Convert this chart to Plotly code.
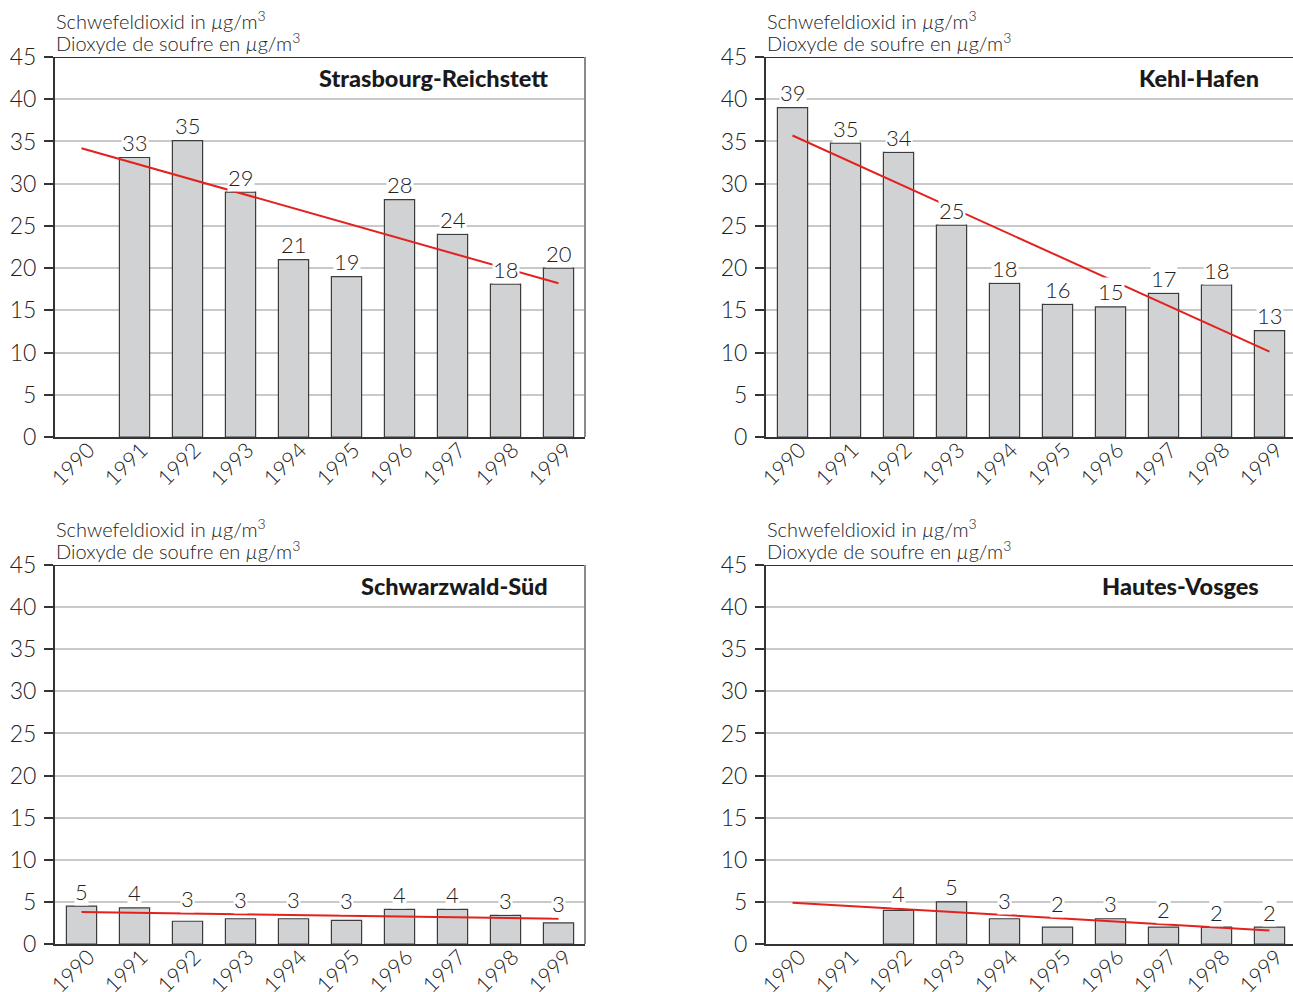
import plotly.graph_objects as go

# ---------------- data ----------------
years = ["1990", "1991", "1992", "1993", "1994", "1995", "1996", "1997", "1998", "1999"]

station_names = ["Strasbourg-Reichstett", "Kehl-Hafen", "Schwarzwald-Süd", "Hautes-Vosges"]

sr_values = [None, 33.1, 35.1, 29.0, 21.0, 19.0, 28.1, 24.0, 18.1, 20.0]
sr_labels = ["", "33", "35", "29", "21", "19", "28", "24", "18", "20"]
sr_trend = [34.2, 18.2]   # trend line at 1990 and 1999

kh_values = [39.0, 34.8, 33.7, 25.1, 18.2, 15.7, 15.4, 17.0, 18.0, 12.6]
kh_labels = ["39", "35", "34", "25", "18", "16", "15", "17", "18", "13"]
kh_trend = [35.7, 10.1]

ss_values = [4.5, 4.3, 2.7, 3.0, 3.0, 2.8, 4.1, 4.1, 3.4, 2.5]
ss_labels = ["5", "4", "3", "3", "3", "3", "4", "4", "3", "3"]
ss_trend = [3.8, 3.0]

hv_values = [None, None, 4.0, 5.0, 3.0, 2.0, 3.0, 2.0, 2.0, 2.0]
hv_labels = ["", "", "4", "5", "3", "2", "3", "2", "2", "2"]
hv_trend = [4.9, 1.6]

y_ticks = [0, 5, 10, 15, 20, 25, 30, 35, 40, 45]
unit_line1 = "Schwefeldioxid in <i>µ</i>g/m<sup>3</sup>"
unit_line2 = "Dioxyde de soufre en <i>µ</i>g/m<sup>3</sup>"

# ---------------- style / layout ----------------
W, H = 1293, 992
FONT = "Lato"
TXT = "#222222"
BAR_FILL = "#d1d2d4"
BAR_LINE = "#3c3c3c"
GRID = "#c9c9c9"
AXIS = "#333333"
RED = "#e3211f"
SLOT = 53.0  # px per category

panels = [
    dict(name=station_names[0], values=sr_values, labels=sr_labels, trend=sr_trend,
         x0=55, x1=585, y0=57, y1=437, right_border=True, clear_trend=False),
    dict(name=station_names[1], values=kh_values, labels=kh_labels, trend=kh_trend,
         x0=766, x1=1296, y0=57, y1=437, right_border=False, clear_trend=False),
    dict(name=station_names[2], values=ss_values, labels=ss_labels, trend=ss_trend,
         x0=55, x1=585, y0=565, y1=944, right_border=True, clear_trend=True),
    dict(name=station_names[3], values=hv_values, labels=hv_labels, trend=hv_trend,
         x0=766, x1=1296, y0=565, y1=944, right_border=False, clear_trend=True),
]

fig = go.Figure()
annotations = []
shapes = []
layout_axes = {}

for i, p in enumerate(panels, start=1):
    xa = "x" if i == 1 else f"x{i}"
    ya = "y" if i == 1 else f"y{i}"
    xkey = "xaxis" if i == 1 else f"xaxis{i}"
    ykey = "yaxis" if i == 1 else f"yaxis{i}"

    fig.add_trace(go.Bar(
        x=years, y=p["values"], xaxis=xa, yaxis=ya, width=0.57,
        marker=dict(color=BAR_FILL, line=dict(color=BAR_LINE, width=1.2)),
        showlegend=False, hoverinfo="skip",
    ))
    fig.add_trace(go.Scatter(
        x=[years[0], years[-1]], y=p["trend"], xaxis=xa, yaxis=ya,
        mode="lines", line=dict(color=RED, width=2),
        showlegend=False, hoverinfo="skip",
    ))

    x1_vis = min(p["x1"], W)
    xmax = -0.5 + (x1_vis - p["x0"]) / SLOT
    layout_axes[xkey] = dict(
        domain=[p["x0"] / W, x1_vis / W], anchor=ya, type="category",
        range=[-0.5, xmax], showline=True, linecolor=AXIS, linewidth=2,
        ticks="", showticklabels=False, showgrid=False, zeroline=False,
        fixedrange=True,
    )
    layout_axes[ykey] = dict(
        domain=[1 - p["y1"] / H, 1 - p["y0"] / H], anchor=xa,
        range=[0, 45], tickvals=y_ticks, showgrid=True, gridcolor=GRID, gridwidth=2,
        ticks="outside", ticklen=9, tickwidth=1.5, tickcolor=AXIS,
        ticklabelstandoff=3,
        showline=True, linecolor=AXIS, linewidth=2, zeroline=False,
        tickfont=dict(family=FONT, size=23, color=TXT, weight=300),
        fixedrange=True,
    )

    # year labels, rotated 45 degrees below each category
    for idx, yr in enumerate(years):
        annotations.append(dict(
            x=idx, y=0, xref=xa, yref=ya, text=yr, showarrow=False, textangle=-45,
            xanchor="center", yanchor="middle", xshift=-9, yshift=-27,
            font=dict(family=FONT, size=21.5, color=TXT, weight=300),
        ))

    # top border (dark) and right border (grey)
    shapes.append(dict(type="line", xref=f"{xa} domain", yref=ya, x0=0, x1=1, y0=45, y1=45,
                       line=dict(color=AXIS, width=2)))
    if p["right_border"]:
        shapes.append(dict(type="line", xref=f"{xa} domain", yref=f"{ya} domain",
                           x0=1, x1=1, y0=0, y1=1, line=dict(color="#8a8a8a", width=2)))

    # value labels (category axes take the category index for annotations)
    t0, t1 = p["trend"]
    for idx, (v, lab) in enumerate(zip(p["values"], p["labels"])):
        if v is None or lab == "":
            continue
        y_pos = v
        if p["clear_trend"]:
            # place the label above the trend line where the line passes above the bar
            y_pos = max(v, t0 + (t1 - t0) * idx / (len(years) - 1))
        annotations.append(dict(
            x=idx, y=y_pos, xref=xa, yref=ya, text=lab, showarrow=False,
            yanchor="bottom", yshift=0.5, bgcolor="white", borderpad=0,
            font=dict(family=FONT, size=22, color=TXT, weight=300),
        ))

    # station title
    annotations.append(dict(
        x=(p["x1"] - 35) / W, y=1 - (p["y0"] + 21) / H, xref="paper", yref="paper",
        xanchor="right", yanchor="middle", text=p["name"], showarrow=False,
        font=dict(family=FONT, size=23.5, color="#1a1a1a", weight=900),
    ))
    # unit text (two lines)
    for txt, dy in ((unit_line1, 37), (unit_line2, 15)):
        annotations.append(dict(
            x=(p["x0"] - 1) / W, y=1 - (p["y0"] - dy) / H, xref="paper", yref="paper",
            xanchor="left", yanchor="middle", align="left", text=txt, showarrow=False,
            font=dict(family=FONT, size=20, color=TXT, weight=300),
        ))

fig.update_layout(
    width=W, height=H, template="none",
    margin=dict(l=0, r=0, t=0, b=0),
    paper_bgcolor="white", plot_bgcolor="white",
    font=dict(family=FONT, color=TXT),
    bargap=0.43, showlegend=False,
    annotations=annotations, shapes=shapes,
    **layout_axes,
)

fig.write_html(
    "out.html",
    config={"displayModeBar": False},
    post_script="document.body.style.margin='0';document.body.style.padding='0';",
)
